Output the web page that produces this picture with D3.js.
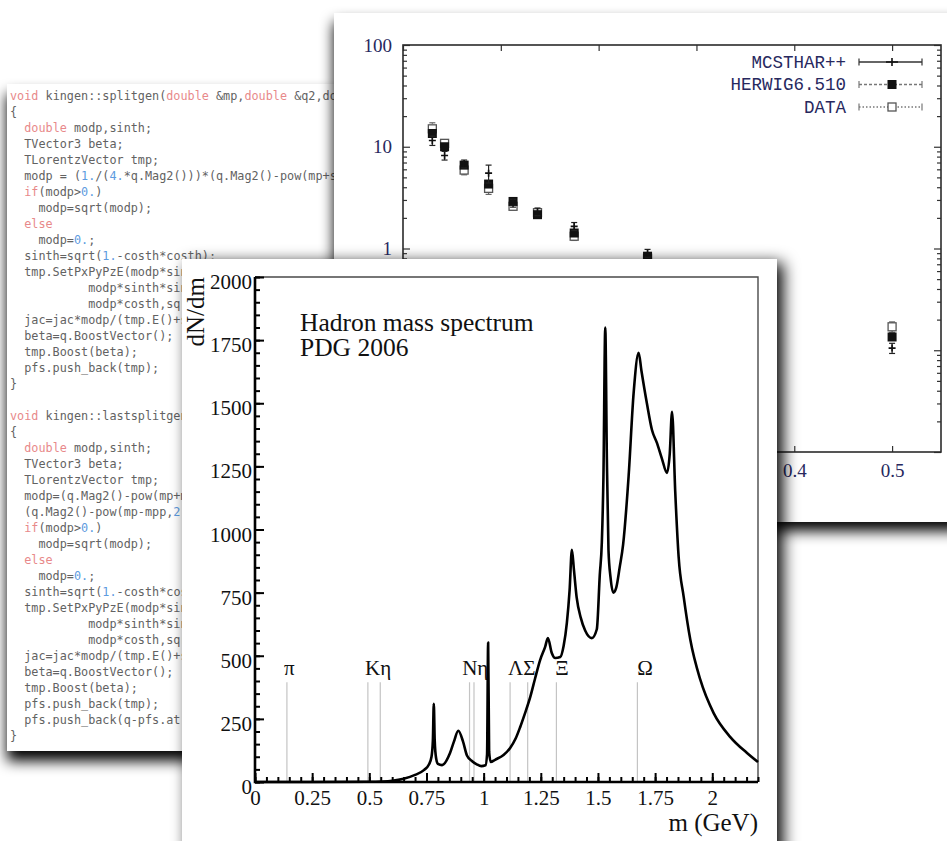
<!DOCTYPE html>
<html>
<head>
<meta charset="utf-8">
<script src="https://cdn.jsdelivr.net/npm/d3@7"></script>
<style>
  body { margin: 0; background: #fff; }
  svg { display: block; }
</style>
</head>
<body>
<svg id="canvas" width="947" height="841"></svg>
<script>
// ---------- source listing on the back sheet ----------
const codeLines = [
  "void kingen::splitgen(double &mp,double &q2,double &mpp)",
  "{",
  "  double modp,sinth;",
  "  TVector3 beta;",
  "  TLorentzVector tmp;",
  "  modp = (1./(4.*q.Mag2()))*(q.Mag2()-pow(mp+sqrt(q2),2))*(q.Mag2()-pow(mp-sqrt(q2),2));",
  "  if(modp>0.)",
  "    modp=sqrt(modp);",
  "  else",
  "    modp=0.;",
  "  sinth=sqrt(1.-costh*costh);",
  "  tmp.SetPxPyPzE(modp*sinth*cos(phi),",
  "           modp*sinth*sin(phi),",
  "           modp*costh,sqrt(modp*modp+mp*mp));",
  "  jac=jac*modp/(tmp.E()+sqrt(q2));",
  "  beta=q.BoostVector();",
  "  tmp.Boost(beta);",
  "  pfs.push_back(tmp);",
  "}",
  "",
  "void kingen::lastsplitgen(double &mp,double &mpp,TLorentzVector &q)",
  "{",
  "  double modp,sinth;",
  "  TVector3 beta;",
  "  TLorentzVector tmp;",
  "  modp=(q.Mag2()-pow(mp+mpp,2))*",
  "  (q.Mag2()-pow(mp-mpp,2))/(4.*q.Mag2());",
  "  if(modp>0.)",
  "    modp=sqrt(modp);",
  "  else",
  "    modp=0.;",
  "  sinth=sqrt(1.-costh*costh);",
  "  tmp.SetPxPyPzE(modp*sinth*cos(phi),",
  "           modp*sinth*sin(phi),",
  "           modp*costh,sqrt(modp*modp+mp*mp));",
  "  jac=jac*modp/(tmp.E()+sqrt(mpp*mpp+modp*modp));",
  "  beta=q.BoostVector();",
  "  tmp.Boost(beta);",
  "  pfs.push_back(tmp);",
  "  pfs.push_back(q-pfs.at(pfs.size()-1));",
  "}"
];
const codeKeywords = ["void", "double", "if", "else"];

// ---------- log plot on the upper sheet ----------
const ptX        = [0.03, 0.0425, 0.0625, 0.0875, 0.1125, 0.1375, 0.175, 0.25, 0.5];
const mcsthar    = [11.5, 8.2, 6.8, 5.5, 2.8, 2.3, 1.65, 0.9, 0.105];
const mcstharErr = [1.2, 0.8, 0.6, 1.1, 0.25, 0.2, 0.15, 0.08, 0.012];
const herwig     = [13.5, 10, 6.6, 4.3, 2.9, 2.15, 1.42, 0.84, 0.135];
const dataVals   = [15, 10.8, 5.9, 3.9, 2.6, 2.25, 1.32, 0.8, 0.17];
const dataErr    = [2.2, 0.9, 0.6, 0.5, 0.2, 0.2, 0.12, 0.07, 0.02];
const topYTicks  = [0.01, 0.1, 1, 10, 100];
const topXTicks  = [0, 0.1, 0.2, 0.3, 0.4, 0.5];
const legendNames = ["MCSTHAR++", "HERWIG6.510", "DATA"];

// ---------- hadron mass spectrum on the front sheet ----------
const massGeV = [0, 0.25, 0.5, 0.55, 0.6, 0.65, 0.7, 0.74, 0.76, 0.772, 0.778, 0.782, 0.786, 0.792, 0.80,
  0.818, 0.853, 0.87, 0.889, 0.91, 0.927, 0.95, 0.97, 0.99, 1.008, 1.015, 1.0197, 1.024, 1.031, 1.05,
  1.087, 1.116, 1.14, 1.16, 1.18, 1.204, 1.225, 1.247, 1.269, 1.281, 1.298, 1.313, 1.335, 1.35, 1.364,
  1.376, 1.386, 1.395, 1.407, 1.425, 1.444, 1.473, 1.495, 1.508, 1.517, 1.524, 1.532, 1.539, 1.546,
  1.555, 1.567, 1.58, 1.595, 1.61, 1.634, 1.656, 1.678, 1.69, 1.714, 1.736, 1.758, 1.78, 1.802, 1.814,
  1.824, 1.838, 1.853, 1.875, 1.904, 1.948, 2.006, 2.079, 2.152, 2.2];
const dNdm = [0, 0, 1, 2, 5, 13, 28, 48, 68, 100, 165, 310, 165, 95, 72,
  67, 115, 160, 203, 160, 105, 82, 70, 63, 66, 110, 552, 120, 79, 88,
  107, 135, 172, 218, 270, 337, 410, 483, 535, 570, 511, 491, 495, 540, 630,
  760, 920, 840, 730, 650, 600, 570, 605, 820, 950, 1210, 1800, 1280, 920,
  810, 750, 770, 850, 940, 1210, 1540, 1700, 1630, 1500, 1395, 1343, 1280, 1224, 1300,
  1466, 1150, 890, 733, 563, 404, 273, 178, 115, 79];
const massTicks = [0, 0.25, 0.5, 0.75, 1, 1.25, 1.5, 1.75, 2];
const densityTicks = [0, 250, 500, 750, 1000, 1250, 1500, 1750, 2000];
const particleMasses = [0.1396, 0.4937, 0.5479, 0.9383, 0.9578, 1.1157, 1.1926, 1.3183, 1.6725];
const particleLabels = ["π", "Kη", "Nη", "ΛΣ", "Ξ", "Ω"];
const particleLabelMass = [0.127, 0.481, 0.906, 1.107, 1.313, 1.672];
const titleLines = ["Hadron mass spectrum", "PDG 2006"];

// ---------- sheet geometry ----------
const codeSheet = { x: 7, y: 84, w: 560, h: 667 };
const topSheet  = { x: 334, y: 13, w: 640, h: 509 };
const mainSheet = { x: 182, y: 259, w: 595, h: 640 };

const svg = d3.select("#canvas");
const defs = svg.append("defs");

function shadow(id, dx, dy, sd, op) {
  const f = defs.append("filter").attr("id", id)
    .attr("x", "-20%").attr("y", "-20%").attr("width", "140%").attr("height", "140%");
  f.append("feDropShadow").attr("dx", dx).attr("dy", dy).attr("stdDeviation", sd)
    .attr("flood-color", "#000").attr("flood-opacity", op);
}
shadow("shCode", 0, 10, 7, 1);
shadow("shTop", 0, 9, 7, 1);
shadow("shMain", 6, 4, 8, 1);

svg.append("rect").attr("width", 947).attr("height", 841).attr("fill", "#fff");

// ===== back sheet: code listing =====
svg.append("rect").attr("x", codeSheet.x).attr("y", codeSheet.y)
  .attr("width", codeSheet.w).attr("height", codeSheet.h)
  .attr("fill", "#fff").attr("filter", "url(#shCode)");

// part of the listing sheet not hidden by the two sheets laid over it
defs.append("clipPath").attr("id", "codeClip").append("path")
  .attr("d", `M${codeSheet.x},${codeSheet.y}H${topSheet.x}V${mainSheet.y}H${mainSheet.x}` +
             `V${codeSheet.y + codeSheet.h}H${codeSheet.x}Z`);

const codeG = svg.append("g").attr("clip-path", "url(#codeClip)")
  .attr("font-family", "DejaVu Sans Mono, monospace").attr("font-size", 11.8);

// width of one monospace character, used to keep only what shows on the sheet
const probe = codeG.append("text").text("MMMMMMMMMM");
const charW = probe.node().getComputedTextLength() / 10;
probe.remove();

function tokenize(line) {
  const re = /([A-Za-z_][A-Za-z_0-9]*)|(\d+\.?\d*)|(\s+)|(.)/g;
  const out = [];
  let m;
  while ((m = re.exec(line)) !== null) {
    let cls = "plain";
    if (m[1] && codeKeywords.includes(m[1])) cls = "kw";
    else if (m[2]) cls = "num";
    const last = out[out.length - 1];
    if (last && last.cls === cls) last.t += m[0];
    else out.push({ t: m[0], cls });
  }
  return out;
}
const codeColor = { plain: "#626262", kw: "#e8898a", num: "#5d9be0" };
const codeX = 10;
codeLines.forEach((line, i) => {
  const y = 99.5 + i * 16;
  const edge = (y - 9 > mainSheet.y) ? mainSheet.x : topSheet.x;
  const nChars = Math.ceil((edge - codeX) / charW);
  const shown = line.slice(0, nChars);
  if (!shown.length) return;
  const t = codeG.append("text").attr("x", codeX).attr("y", y)
    .attr("xml:space", "preserve").style("white-space", "pre");
  tokenize(shown).forEach(tok => {
    t.append("tspan").attr("fill", codeColor[tok.cls]).text(tok.t);
  });
});

// ===== upper sheet: log plot =====
svg.append("rect").attr("x", topSheet.x).attr("y", topSheet.y).attr("width", topSheet.w).attr("height", topSheet.h)
  .attr("fill", "#fff").attr("filter", "url(#shTop)");

const xT = d3.scaleLinear().domain([0, 0.55]).range([403, 941]);
const yT = d3.scaleLog().domain([0.01, 100]).range([452, 45]);
const navy = "#27285e";
const topG = svg.append("g");

const minorLog = [];
topYTicks.slice(0, -1).forEach(d => { for (let k = 2; k <= 9; k++) minorLog.push(d * k); });

function styleTopAxis(g) {
  g.selectAll("path.domain").remove();
  g.selectAll("line").attr("stroke", "#333").attr("stroke-width", 1.2);
  g.selectAll("text").attr("fill", navy).attr("font-family", "Liberation Serif, serif").attr("font-size", 19);
}
// labels that fall under the front sheet are left blank
const yLabelFmt = d => (yT(d) < mainSheet.y ? String(d) : "");
const xLabelFmt = d => (xT(d) > mainSheet.x + mainSheet.w + 10 ? String(d) : "");

topG.append("g").attr("transform", `translate(${xT.range()[0]},0)`)
  .call(d3.axisLeft(yT).tickValues(topYTicks).tickSizeInner(-7).tickSizeOuter(0).tickPadding(11)
    .tickFormat(yLabelFmt)).call(styleTopAxis);
topG.append("g").attr("transform", `translate(${xT.range()[0]},0)`)
  .call(d3.axisLeft(yT).tickValues(minorLog).tickSizeInner(-4).tickSizeOuter(0).tickFormat(""))
  .call(styleTopAxis);
topG.append("g").attr("transform", `translate(${xT.range()[1]},0)`)
  .call(d3.axisRight(yT).tickValues(topYTicks).tickSizeInner(-7).tickSizeOuter(0).tickFormat(""))
  .call(styleTopAxis);
topG.append("g").attr("transform", `translate(${xT.range()[1]},0)`)
  .call(d3.axisRight(yT).tickValues(minorLog).tickSizeInner(-4).tickSizeOuter(0).tickFormat(""))
  .call(styleTopAxis);
topG.append("g").attr("transform", `translate(0,${yT.range()[1]})`)
  .call(d3.axisTop(xT).tickValues(topXTicks).tickSizeInner(-6).tickSizeOuter(0).tickFormat(""))
  .call(styleTopAxis);
topG.append("g").attr("transform", `translate(0,${yT.range()[0]})`)
  .call(d3.axisBottom(xT).tickValues(topXTicks).tickSizeInner(-6).tickSizeOuter(0).tickPadding(12)
    .tickFormat(xLabelFmt)).call(styleTopAxis);
topG.selectAll("text").filter(function () { return this.textContent === ""; }).remove();
topG.append("rect").attr("x", xT.range()[0]).attr("y", yT.range()[1])
  .attr("width", xT.range()[1] - xT.range()[0]).attr("height", yT.range()[0] - yT.range()[1])
  .attr("fill", "none").attr("stroke", "#2b2b2b").attr("stroke-width", 1.6);

// markers
function errBar(g, x, lo, hi, color, dash) {
  g.append("line").attr("x1", x).attr("x2", x).attr("y1", yT(lo)).attr("y2", yT(hi))
    .attr("stroke", color).attr("stroke-width", 1.2).attr("stroke-dasharray", dash || null);
  [lo, hi].forEach(v => g.append("line").attr("x1", x - 3).attr("x2", x + 3)
    .attr("y1", yT(v)).attr("y2", yT(v)).attr("stroke", color).attr("stroke-width", 1.2));
}
const ptsG = topG.append("g");
ptX.forEach((xv, i) => {
  const px = xT(xv);
  // DATA: open square with error bar
  errBar(ptsG, px, dataVals[i] - dataErr[i], dataVals[i] + dataErr[i], "#666", "1.5,1.5");
  ptsG.append("rect").attr("x", px - 4).attr("y", yT(dataVals[i]) - 4).attr("width", 8).attr("height", 8)
    .attr("fill", "#fff").attr("stroke", "#555").attr("stroke-width", 1.3);
  // HERWIG: filled square
  ptsG.append("rect").attr("x", px - 4.5).attr("y", yT(herwig[i]) - 4.5).attr("width", 9).attr("height", 9)
    .attr("fill", "#111");
  // MCSTHAR++: cross with error bar
  errBar(ptsG, px, mcsthar[i] - mcstharErr[i], mcsthar[i] + mcstharErr[i], "#222");
  const py = yT(mcsthar[i]);
  ptsG.append("path").attr("d", `M${px - 3.5},${py}H${px + 3.5}M${px},${py - 3.5}V${py + 3.5}`)
    .attr("stroke", "#111").attr("stroke-width", 1.6);
});

// legend
const legG = topG.append("g");
const legStyles = [
  { dash: null, color: "#333", marker: "cross" },
  { dash: "3,2", color: "#777", marker: "fill" },
  { dash: "1.5,2", color: "#777", marker: "open" }
];
legendNames.forEach((name, i) => {
  const y = 62 + i * 22.5;
  legG.append("text").attr("x", 846).attr("y", y + 5.5).attr("text-anchor", "end")
    .attr("font-family", "Liberation Mono, monospace").attr("font-size", 17.5).attr("fill", navy).text(name);
  const s = legStyles[i];
  legG.append("line").attr("x1", 859).attr("x2", 922).attr("y1", y).attr("y2", y)
    .attr("stroke", s.color).attr("stroke-width", 1.3).attr("stroke-dasharray", s.dash);
  [859, 922].forEach(x => legG.append("line").attr("x1", x).attr("x2", x).attr("y1", y - 3.5).attr("y2", y + 3.5)
    .attr("stroke", s.color).attr("stroke-width", 1.2));
  if (s.marker === "cross") {
    legG.append("path").attr("d", `M886,${y}H898M892,${y - 4}V${y + 4}`).attr("stroke", "#111").attr("stroke-width", 1.6);
  } else if (s.marker === "fill") {
    legG.append("rect").attr("x", 887.5).attr("y", y - 4.5).attr("width", 9).attr("height", 9).attr("fill", "#111");
  } else {
    legG.append("rect").attr("x", 888).attr("y", y - 4).attr("width", 8).attr("height", 8)
      .attr("fill", "#fff").attr("stroke", "#555").attr("stroke-width", 1.3);
  }
});

// ===== front sheet: hadron mass spectrum =====
svg.append("rect").attr("x", mainSheet.x).attr("y", mainSheet.y).attr("width", mainSheet.w).attr("height", mainSheet.h)
  .attr("fill", "#fff").attr("filter", "url(#shMain)");

const xM = d3.scaleLinear().domain([0, 2.2]).range([255, 758]);
const yM = d3.scaleLinear().domain([0, 2000]).range([782, 277]);
const serif = "Liberation Serif, Times New Roman, serif";
const mainG = svg.append("g");

// frame top/right (thin)
mainG.append("path")
  .attr("d", `M${xM(0)},${yM(2000)}H${xM(2.2)}V${yM(0)}`)
  .attr("fill", "none").attr("stroke", "#4a4a4a").attr("stroke-width", 1.4);

// particle mass markers
mainG.append("g").selectAll("line").data(particleMasses).join("line")
  .attr("x1", d => xM(d)).attr("x2", d => xM(d))
  .attr("y1", yM(0)).attr("y2", yM(395))
  .attr("stroke", "#c4c4c4").attr("stroke-width", 1.2);
mainG.append("g").selectAll("text").data(particleLabels).join("text")
  .attr("x", (d, i) => xM(particleLabelMass[i])).attr("y", 675)
  .attr("font-family", serif).attr("font-size", 21).attr("fill", "#111")
  .text(d => d);

// spectrum curve
const line = d3.line().x(d => xM(d[0])).y(d => yM(d[1])).curve(d3.curveMonotoneX);
mainG.append("path").datum(massGeV.map((m, i) => [m, dNdm[i]]))
  .attr("d", line).attr("fill", "none").attr("stroke", "#000")
  .attr("stroke-width", 2.6).attr("stroke-linejoin", "round");

// axes
function styleMainAxis(g) {
  g.selectAll("path.domain").remove();
  g.selectAll("line").attr("stroke", "#000").attr("stroke-width", 2);
  g.selectAll("text").attr("fill", "#111").attr("font-family", serif).attr("font-size", 21);
}
mainG.append("g").attr("transform", `translate(0,${yM(0)})`)
  .call(d3.axisBottom(xM).tickValues(d3.range(0, 2.2001, 0.05)).tickSizeInner(-5).tickSizeOuter(0).tickFormat(""))
  .call(styleMainAxis);
mainG.append("g").attr("transform", `translate(0,${yM(0)})`)
  .call(d3.axisBottom(xM).tickValues(massTicks).tickSizeInner(-9).tickSizeOuter(0).tickPadding(8)
    .tickFormat(d => String(d)))
  .call(styleMainAxis);
mainG.append("g").attr("transform", `translate(${xM(0)},0)`)
  .call(d3.axisLeft(yM).tickValues(d3.range(0, 2001, 50)).tickSizeInner(-5).tickSizeOuter(0).tickFormat(""))
  .call(styleMainAxis);
mainG.append("g").attr("transform", `translate(${xM(0)},0)`)
  .call(d3.axisLeft(yM).tickValues(densityTicks).tickSizeInner(-9).tickSizeOuter(0).tickPadding(3)
    .tickFormat(d => String(d)))
  .call(styleMainAxis)
  .selectAll("text").attr("dy", "0.55em");
mainG.selectAll("text").filter(function () { return this.textContent === ""; }).remove();
// heavy left/bottom axis lines
mainG.append("path")
  .attr("d", `M${xM(0)},${yM(2000)}V${yM(0)}H${xM(2.2)}`)
  .attr("fill", "none").attr("stroke", "#000").attr("stroke-width", 2.6);

// axis titles and caption
mainG.append("text").attr("transform", `translate(204,${yM(2000)}) rotate(-90)`)
  .attr("text-anchor", "end").attr("font-family", serif).attr("font-size", 25).attr("fill", "#111")
  .text("dN/dm");
mainG.append("text").attr("x", xM(2.2)).attr("y", 831).attr("text-anchor", "end")
  .attr("font-family", serif).attr("font-size", 25).attr("fill", "#111").text("m (GeV)");
// two-line caption set as one text block
const caption = mainG.append("text").attr("x", 300).attr("y", 331)
  .attr("font-family", serif).attr("font-size", 25.5).attr("fill", "#111");
titleLines.forEach((t, i) => {
  caption.append("tspan").attr("x", 300).attr("dy", i === 0 ? 0 : 25).text(t);
});
</script>
</body>
</html>
